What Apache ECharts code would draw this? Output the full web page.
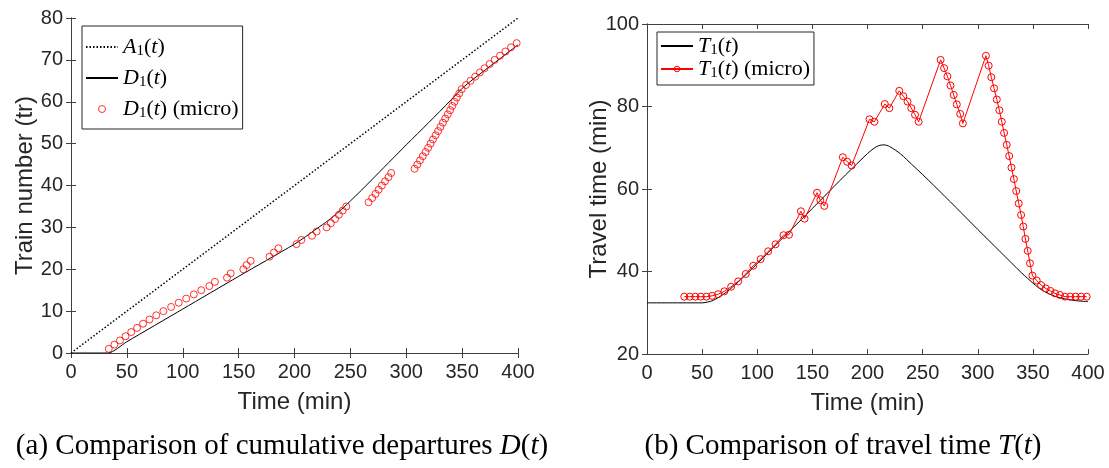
<!DOCTYPE html>
<html>
<head>
<meta charset="utf-8">
<script src="https://cdn.jsdelivr.net/npm/echarts@6/dist/echarts.min.js"></script>
<style>
  html, body { margin: 0; padding: 0; background: #ffffff; }
  #chart { width: 1109px; height: 468px; }
</style>
</head>
<body>
<div id="chart"></div>
<script>
// ---- cumulative arrivals A1(t) (trains), straight line ----
const arrivalTime = [0, 400];
const arrivalCount = [0, 80];

// ---- cumulative departures D1(t), macroscopic model ----
const departTime = [0, 33, 50, 100, 150, 200, 210, 220, 230, 240, 250, 260, 280, 300, 320, 340, 350, 360, 380, 400];
const departCount = [0, 0, 2.7, 10.5, 18.3, 26.0, 27.8, 29.7, 31.6, 33.8, 36.3, 38.9, 44.3, 49.7, 55.0, 60.4, 63.2, 65.4, 69.5, 73.6];

// ---- microscopic simulation: one entry per train ----
const trainNo = [
  1, 2, 3, 4, 5, 6, 7, 8, 9, 10, 11, 12, 13, 14, 15, 16, 17, 18, 19, 20,
  21, 22, 23, 24, 25, 26, 27, 28, 29, 30, 31, 32, 33, 34, 35, 36, 37, 38, 39, 40,
  41, 42, 43, 44, 45, 46, 47, 48, 49, 50, 51, 52, 53, 54, 55, 56, 57, 58, 59, 60,
  61, 62, 63, 64, 65, 66, 67, 68, 69, 70, 71, 72, 73, 74
];
const trainDepartTime = [
  33.8, 38.8, 43.8, 48.8, 53.9, 59.1, 64.5, 70.2, 76.3, 82.7,
  89.6, 96.4, 103.1, 109.9, 116.6, 123.8, 128.8, 139.6, 142.9, 154.2,
  157.2, 160.8, 177.6, 181.6, 185.6, 201.8, 206.2, 215.7, 219.8, 228.8,
  232.5, 236.3, 239.7, 243.1, 246.4, 266.3, 269.5, 272.5, 275.3, 278.2,
  281.0, 284.1, 286.5, 307.4, 309.9, 312.3, 314.8, 317.3, 319.6, 321.8,
  323.9, 326.3, 328.5, 330.6, 332.8, 334.9, 337.2, 339.3, 341.3, 343.2,
  345.3, 347.4, 349.6, 353.5, 357.5, 361.7, 365.9, 370.1, 374.6, 379.1,
  383.9, 388.8, 393.7, 398.8
];
const trainTravelTime = [
  33.9, 33.9, 33.9, 33.9, 33.9, 34.1, 34.5, 35.2, 36.3, 37.6,
  39.4, 41.4, 43.0, 44.9, 46.6, 48.8, 48.9, 54.6, 52.8, 59.1,
  57.3, 55.9, 67.7, 66.6, 65.7, 76.9, 76.3, 80.6, 79.6, 83.8,
  82.5, 81.2, 79.6, 78.0, 76.3, 91.3, 89.3, 87.3, 85.1, 82.8,
  80.5, 78.2, 75.9, 92.3, 89.9, 87.1, 84.4, 81.7, 79.1, 76.3,
  73.6, 70.7, 68.0, 65.2, 62.4, 59.5, 56.5, 53.7, 50.9, 47.9,
  45.0, 42.0, 39.0, 37.8, 36.7, 35.9, 35.3, 34.7, 34.3, 33.9,
  33.9, 33.9, 33.9, 33.9
];

// ---- travel time T1(t), macroscopic model (min) ----
const travelTime = [0, 50, 55, 60, 70, 80, 90, 100, 120, 140, 160, 180, 190, 200, 205, 210, 215, 220, 230, 240, 250, 260, 280, 300, 320, 340, 345, 350, 355, 360, 370, 380, 390, 400];
const travelValue = [32.4, 32.4, 32.6, 33.0, 34.6, 36.8, 39.3, 41.9, 47.3, 52.6, 58.0, 63.4, 66.0, 68.6, 69.7, 70.5, 70.7, 70.3, 68.5, 66.0, 63.5, 60.9, 55.6, 50.2, 44.9, 39.6, 38.4, 37.2, 36.1, 35.2, 34.0, 33.3, 32.9, 32.7];

// ---- axes ----
const timeTicks = { min: 0, max: 400, interval: 50 };
const trainTicks = { min: 0, max: 80, interval: 10 };
const travelTicks = { min: 20, max: 100, interval: 20 };

const pairs = (xs, ys) => xs.map((x, i) => [x, ys[i]]);

const AXIS_COLOR = '#404040';
const TEXT_COLOR = '#262626';
const SANS = '"Liberation Sans", Arial, Helvetica, sans-serif';
const SERIF = '"Liberation Serif", "Times New Roman", serif';

const mathRich = (size, lh) => ({
  it: { fontFamily: SERIF, fontStyle: 'italic', fontSize: size, lineHeight: lh, color: '#000' },
  rm: { fontFamily: SERIF, fontSize: size, lineHeight: lh, color: '#000' },
  sub: { fontFamily: SERIF, fontSize: Math.round(size * 0.7), lineHeight: Math.round(lh * 0.6), verticalAlign: 'bottom', color: '#000' }
});

const legendText = {
  'A1': '{it|A}{sub|1}{rm|(}{it|t}{rm|)}',
  'D1': '{it|D}{sub|1}{rm|(}{it|t}{rm|)}',
  'D1 micro': '{it|D}{sub|1}{rm|(}{it|t}{rm|) (micro)}',
  'T1': '{it|T}{sub|1}{rm|(}{it|t}{rm|)}',
  'T1 micro': '{it|T}{sub|1}{rm|(}{it|t}{rm|) (micro)}'
};

function mainX(gridIndex) {
  return {
    type: 'value', gridIndex, position: 'bottom', ...timeTicks,
    name: 'Time (min)', nameLocation: 'middle', nameGap: 37, nameMoveOverlap: false,
    nameTextStyle: { fontFamily: SANS, fontSize: 24, color: TEXT_COLOR },
    axisLine: { show: true, lineStyle: { color: AXIS_COLOR, width: 1 } },
    axisTick: { show: true, inside: true, length: 5, lineStyle: { color: AXIS_COLOR } },
    axisLabel: { fontFamily: SANS, fontSize: 20, color: TEXT_COLOR, margin: 9 },
    splitLine: { show: false }
  };
}
function boxX(gridIndex) {
  return {
    type: 'value', gridIndex, position: 'top', ...timeTicks,
    axisLine: { show: true, lineStyle: { color: AXIS_COLOR, width: 1 } },
    axisTick: { show: true, inside: true, length: 5, lineStyle: { color: AXIS_COLOR } },
    axisLabel: { show: false }, splitLine: { show: false }
  };
}
function mainY(gridIndex, ticks, name, gap) {
  return {
    type: 'value', gridIndex, position: 'left', ...ticks,
    name, nameLocation: 'middle', nameGap: gap, nameMoveOverlap: false,
    nameTextStyle: { fontFamily: SANS, fontSize: 24, color: TEXT_COLOR },
    axisLine: { show: true, lineStyle: { color: AXIS_COLOR, width: 1 } },
    axisTick: { show: true, inside: true, length: 5, lineStyle: { color: AXIS_COLOR } },
    axisLabel: { fontFamily: SANS, fontSize: 20, color: TEXT_COLOR, margin: 8 },
    splitLine: { show: false }
  };
}
function boxY(gridIndex, ticks) {
  return {
    type: 'value', gridIndex, position: 'right', ...ticks,
    axisLine: { show: true, lineStyle: { color: AXIS_COLOR, width: 1 } },
    axisTick: { show: true, inside: true, length: 5, lineStyle: { color: AXIS_COLOR } },
    axisLabel: { show: false }, splitLine: { show: false }
  };
}

const microCircle = {
  color: 'rgba(0,0,0,0)', borderColor: '#ff0000', borderWidth: 1
};
const noMarker = { opacity: 0 };

const chart = echarts.init(document.getElementById('chart'), null, { renderer: 'canvas' });

chart.setOption({
  animation: false,
  backgroundColor: '#ffffff',
  grid: [
    { left: 71, top: 18, width: 447, height: 335 },
    { left: 647, top: 24, width: 441, height: 330 }
  ],
  xAxis: [mainX(0), boxX(0), mainX(1), boxX(1)],
  yAxis: [
    mainY(0, trainTicks, 'Train number (tr)', 34),
    boxY(0, trainTicks),
    mainY(1, travelTicks, 'Travel time (min)', 36),
    boxY(1, travelTicks)
  ],
  legend: [
    {
      data: [
        { name: 'A1', itemStyle: noMarker },
        { name: 'D1', itemStyle: noMarker },
        { name: 'D1 micro', itemStyle: microCircle }
      ],
      left: 82, top: 26, orient: 'vertical',
      padding: [10, 4, 8, 3], itemGap: 8,
      itemWidth: 32, itemHeight: 7,
      borderColor: '#262626', borderWidth: 1, backgroundColor: '#ffffff',
      formatter: (n) => legendText[n],
      textStyle: { rich: mathRich(22, 24) }
    },
    {
      data: [
        { name: 'T1', itemStyle: noMarker },
        { name: 'T1 micro', itemStyle: microCircle }
      ],
      left: 657, top: 32, orient: 'vertical',
      padding: [3, 4, 4, 3], itemGap: 0,
      itemWidth: 32, itemHeight: 7,
      borderColor: '#262626', borderWidth: 1, backgroundColor: '#ffffff',
      formatter: (n) => legendText[n],
      textStyle: { rich: mathRich(22, 24) }
    }
  ],
  series: [
    {
      name: 'A1', type: 'line', xAxisIndex: 0, yAxisIndex: 0,
      data: pairs(arrivalTime, arrivalCount),
      symbol: 'none', lineStyle: { color: '#000', width: 1.5, type: [1.5, 2] },
      itemStyle: { color: '#000' }
    },
    {
      name: 'D1', type: 'line', xAxisIndex: 0, yAxisIndex: 0,
      data: pairs(departTime, departCount), smooth: 0.25,
      symbol: 'none', lineStyle: { color: '#000', width: 1 },
      itemStyle: { color: '#000' }
    },
    {
      name: 'D1 micro', type: 'scatter', xAxisIndex: 0, yAxisIndex: 0,
      data: pairs(trainDepartTime, trainNo),
      symbol: 'circle', symbolSize: 7, itemStyle: microCircle, z: 3
    },
    {
      name: 'T1', type: 'line', xAxisIndex: 2, yAxisIndex: 2,
      data: pairs(travelTime, travelValue), smooth: 0.3,
      symbol: 'none', lineStyle: { color: '#000', width: 1 },
      itemStyle: { color: '#000' }
    },
    {
      name: 'T1 micro', type: 'line', xAxisIndex: 2, yAxisIndex: 2,
      data: pairs(trainDepartTime, trainTravelTime),
      symbol: 'circle', symbolSize: 7, showSymbol: true,
      lineStyle: { color: '#ff0000', width: 1 },
      itemStyle: microCircle, z: 3
    }
  ],
  graphic: [
    {
      type: 'text', x: 282, y: 446,
      style: {
        text: '{rm|(a) Comparison of cumulative departures }{it|D}{rm|(}{it|t}{rm|)}',
        rich: mathRich(29, 32), align: 'center', verticalAlign: 'middle'
      }
    },
    {
      type: 'text', x: 843, y: 446,
      style: {
        text: '{rm|(b) Comparison of travel time }{it|T}{rm|(}{it|t}{rm|)}',
        rich: mathRich(29, 32), align: 'center', verticalAlign: 'middle'
      }
    }
  ]
});
</script>
</body>
</html>
